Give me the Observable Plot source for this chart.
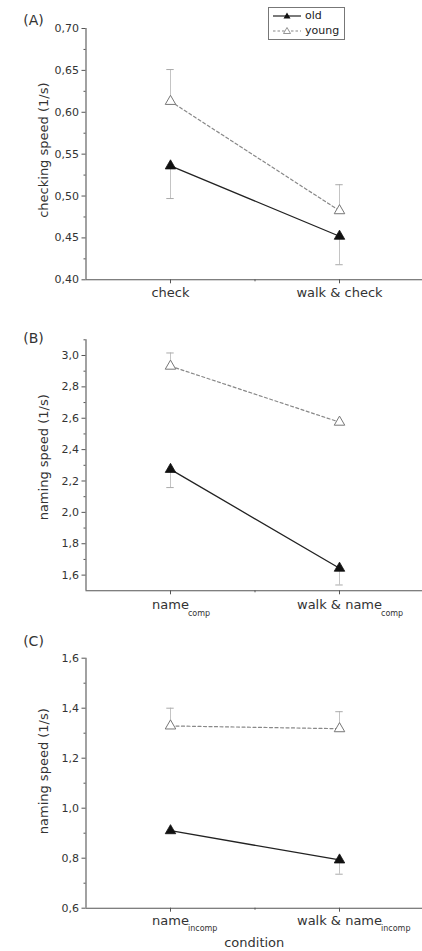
<!DOCTYPE html>
<html><head><meta charset="utf-8">
<script src="https://cdn.jsdelivr.net/npm/d3@7"></script>
<script src="https://cdn.jsdelivr.net/npm/@observablehq/plot@0.6"></script>
<style>
body{margin:0;background:#fff;font-family:"DejaVu Sans",sans-serif;}
#wrap{position:relative;width:422px;height:951px;overflow:hidden;background:#fff;}
.panel{position:absolute;left:0;}
.panel svg{display:block;}
#legend{position:absolute;left:268px;top:7px;width:75px;height:31px;border:1px solid #777;background:#fff;font-size:11px;color:#222;}
#legend .row{position:absolute;left:0;height:14px;}
#legend svg{position:absolute;left:0;top:0;}
#legend span{position:absolute;left:36px;top:0;line-height:14px;white-space:nowrap;}
</style></head><body>
<div id="wrap">
  <div id="pA" class="panel" style="top:0"></div>
  <div id="pB" class="panel" style="top:310px"></div>
  <div id="pC" class="panel" style="top:620px"></div>
  <div id="legend">
    <div class="row" style="top:1px"><svg width="34" height="14"><line x1="4" y1="7" x2="32" y2="7" stroke="#222" stroke-width="1.2"/><path d="M18,3.5 L21.5,9.5 L14.5,9.5 Z" fill="#111"/></svg><span>old</span></div>
    <div class="row" style="top:16px"><svg width="34" height="14"><line x1="4" y1="7" x2="32" y2="7" stroke="#888" stroke-width="1.1" stroke-dasharray="2.5,2"/><path d="M18,3.5 L21.5,9.5 L14.5,9.5 Z" fill="#fff" stroke="#888" stroke-width="0.9"/></svg><span>young</span></div>
  </div>
</div>
<script>
// ---- data ----
const groups = ["old", "young"];
const condA = ["check", "walk & check"];
const subA = ["", ""];
const condB = ["name", "walk & name"];
const subB = ["comp", "comp"];
const condC = ["name", "walk & name"];
const subC = ["incomp", "incomp"];

const oldA = [0.536, 0.452];
const oldAErr = [0.039, 0.034];
const youngA = [0.613, 0.4825];
const youngAErr = [0.038, 0.031];

const oldB = [2.274, 1.644];
const oldBErr = [0.116, 0.107];
const youngB = [2.932, 2.575];
const youngBErr = [0.084, 0];

const oldC = [0.910, 0.793];
const oldCErr = [0, 0.057];
const youngC = [1.329, 1.318];
const youngCErr = [0.071, 0.068];

const ticksA = [0.40, 0.45, 0.50, 0.55, 0.60, 0.65, 0.70];
const minorA = [0.425, 0.475, 0.525, 0.575, 0.625, 0.675];
const ticksB = [1.6, 1.8, 2.0, 2.2, 2.4, 2.6, 2.8, 3.0];
const minorB = [1.7, 1.9, 2.1, 2.3, 2.5, 2.7, 2.9, 3.1];
const ticksC = [0.6, 0.8, 1.0, 1.2, 1.4, 1.6];
const minorC = [0.7, 0.9, 1.1, 1.3, 1.5];

const ylabelA = "checking speed (1/s)";
const ylabelB = "naming speed (1/s)";
const ylabelC = "naming speed (1/s)";
const xTitle = "condition";

// ---- helpers ----
const canvas = document.createElement("canvas");
const ctx = canvas.getContext("2d");
function textWidth(t, size) { ctx.font = size + "px \"DejaVu Sans\", sans-serif"; return ctx.measureText(t).width; }
const xRange = [85.5, 423.5];
const xDomain = [0.5, 2.5];
const pxPerUnit = (xRange[1] - xRange[0]) / (xDomain[1] - xDomain[0]);

function rows(old, oldErr, young, youngErr) {
  const r = [];
  old.forEach((v, i) => r.push({c: i + 1, g: "old", v, e: oldErr[i], end: v - oldErr[i]}));
  young.forEach((v, i) => r.push({c: i + 1, g: "young", v, e: youngErr[i], end: v + youngErr[i]}));
  return r;
}

function panel(o) {
  const data = rows(o.old, o.oldErr, o.young, o.youngErr);
  const errs = data.filter(d => d.e > 0);
  const fmt = d => d3.format(o.fmt)(d).replace(".", ",");
  const labels = o.conds.map((t, i) => ({c: i + 1, t, s: o.subs[i], w: textWidth(t, 13)}));
  const axisColor = "#555";
  const plot = Plot.plot({
    width: 422, height: o.height,
    marginLeft: 85.5, marginRight: 0, marginTop: o.mt, marginBottom: o.mb,
    style: {fontFamily: "'DejaVu Sans', sans-serif", background: "#fff", overflow: "visible"},
    x: {type: "linear", domain: xDomain, range: xRange},
    y: {domain: o.domain},
    marks: [
      Plot.ruleX([0.5], {stroke: axisColor, strokeWidth: 1.1}),
      Plot.ruleY([o.domain[0]], {stroke: axisColor, strokeWidth: 1.1}),
      Plot.axisY(o.ticks, {tickSize: 4, tickPadding: 3, tickFormat: fmt, fontSize: 11, stroke: axisColor, fill: "#333", label: null}),
      Plot.axisY(o.minor, {tickSize: 2, tickFormat: () => "", stroke: axisColor, label: null}),
      Plot.axisX([1, 2], {tickSize: 4, tickFormat: () => "", stroke: axisColor, label: null}),
      Plot.axisX([1.5], {tickSize: 2, tickFormat: () => "", stroke: axisColor, label: null}),
      // error bars
      Plot.ruleX(errs, {x: "c", y1: "v", y2: "end", stroke: "#c4c4c4", strokeWidth: 1}),
      Plot.ruleY(errs, {x1: d => d.c - 0.022, x2: d => d.c + 0.022, y: "end", stroke: "#aaa", strokeWidth: 1}),
      // lines
      Plot.line(data.filter(d => d.g === "young"), {x: "c", y: "v", stroke: "#888", strokeWidth: 1.2, strokeDasharray: "3,2.5"}),
      Plot.line(data.filter(d => d.g === "old"), {x: "c", y: "v", stroke: "#222", strokeWidth: 1.3}),
      // markers
      Plot.dot(data.filter(d => d.g === "young"), {x: "c", y: "v", symbol: "triangle", r: 3.9, fill: "#fff", stroke: "#777", strokeWidth: 1}),
      Plot.dot(data.filter(d => d.g === "old"), {x: "c", y: "v", symbol: "triangle", r: 3.9, fill: "#111", stroke: "#111", strokeWidth: 0.8}),
      // category labels
      Plot.text(labels, {x: "c", text: "t", frameAnchor: "bottom", lineAnchor: "bottom", dy: o.mainDy, fontSize: 13, fill: "#333"}),
      Plot.text(labels.filter(d => d.s), {x: d => d.c + (d.w / 2 - 1) / pxPerUnit, text: "s", frameAnchor: "bottom", lineAnchor: "bottom", textAnchor: "start", dy: o.subDy, fontSize: 8, fill: "#333"}),
      // y label
      Plot.text([o.ylabel], {frameAnchor: "left", textAnchor: "middle", lineAnchor: "middle", rotate: -90, dx: -42, dy: o.labelDy, fontSize: 13, fill: "#333"}),
      // panel tag
      Plot.text([o.tag], {frameAnchor: "top-left", textAnchor: "middle", lineAnchor: "middle", dx: -52.5, dy: o.tagDy, fontSize: 14, fill: "#333"}),
      ...(o.xTitle ? [Plot.text([o.xTitle], {frameAnchor: "bottom", lineAnchor: "bottom", dy: 39, fontSize: 13, fill: "#333"})] : [])
    ]
  });
  document.getElementById(o.el).appendChild(plot);
}

panel({el: "pA", height: 310, mt: 28, mb: 30.7, domain: [0.40, 0.70], ticks: ticksA, minor: minorA, fmt: ".2f",
  conds: condA, subs: subA, old: oldA, oldErr: oldAErr, young: youngA, youngErr: youngAErr,
  ylabel: ylabelA, labelDy: -4, tag: "(A)", tagDy: -8, mainDy: 17, subDy: 25});
panel({el: "pB", height: 310, mt: 29.3, mb: 29.7, domain: [1.5, 3.1], ticks: ticksB, minor: minorB, fmt: ".1f",
  conds: condB, subs: subB, old: oldB, oldErr: oldBErr, young: youngB, youngErr: youngBErr,
  ylabel: ylabelB, labelDy: -8, tag: "(B)", tagDy: -1.6, mainDy: 18, subDy: 25});
panel({el: "pC", height: 331, mt: 37.7, mb: 43.3, domain: [0.6, 1.6], ticks: ticksC, minor: minorC, fmt: ".1f",
  conds: condC, subs: subC, old: oldC, oldErr: oldCErr, young: youngC, youngErr: youngCErr,
  ylabel: ylabelC, labelDy: -12, tag: "(C)", tagDy: -16.7, mainDy: 16.7, subDy: 22.5, xTitle});
</script>
</body></html>
